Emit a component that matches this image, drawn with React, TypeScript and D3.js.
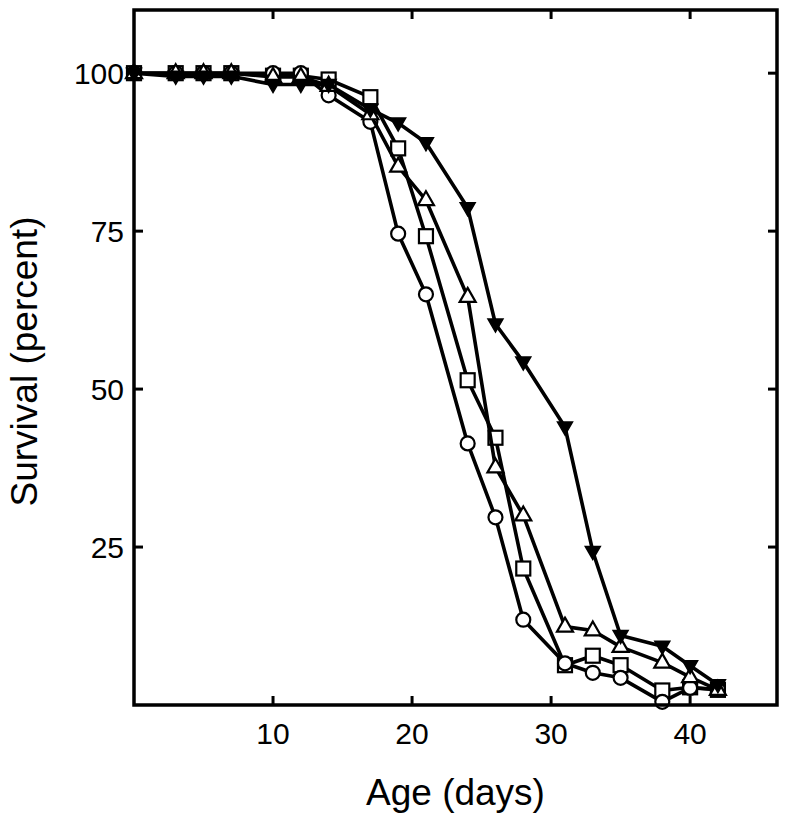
import React from "react";
import * as d3 from "d3";

const days = [0, 3, 5, 7, 10, 12, 14, 17, 19, 21, 24, 26, 28, 31, 33, 35, 38, 40, 42];
const circleSeries = [100, 100, 100, 100, 100, 100, 96.5, 92.3, 74.6, 65, 41.4, 29.7, 13.5, 6.6, 5.1, 4.3, 0.5, 2.7, 2.5];
const squareSeries = [100, 100, 100, 100, 99.6, 99.6, 99, 96.2, 88.1, 74.2, 51.4, 42.3, 21.6, 6.3, 7.8, 6.3, 2.3, 2.8, 2.4];
const triangleSeries = [100, 100, 100, 100, 99.4, 99.4, 98, 93.5, 85.2, 79.9, 64.6, 37.6, 30, 12.4, 11.8, 9.2, 6.7, 4.4, 2.4];
const filledSeries = [100, 99.5, 99.5, 99.5, 98.2, 98.2, 98.2, 94.3, 92.1, 89, 78.7, 60.3, 54.3, 44, 24.3, 11, 9.3, 6.2, 3.2];

const xTicks = [10, 20, 30, 40];
const yTicks = [25, 50, 75, 100];

const W = 788;
const H = 824;
const L = 134, R = 777, T = 10, B = 705;

export default function App() {
  const x = d3.scaleLinear().domain([0, 46.25]).range([L, R]);
  const y = d3.scaleLinear().domain([0, 110]).range([B, T]);
  const line = d3
    .line<[number, number]>()
    .x((d) => x(d[0]))
    .y((d) => y(d[1]));

  const series = [
    { name: "square", values: squareSeries },
    { name: "circle", values: circleSeries },
    { name: "triangle", values: triangleSeries },
    { name: "filled", values: filledSeries },
  ];

  const marker = (kind: string, cx: number, cy: number, key: string) => {
    const sw = 2.2;
    if (kind === "circle")
      return <circle key={key} cx={cx} cy={cy} r={7} fill="#fff" stroke="#000" strokeWidth={sw} />;
    if (kind === "square")
      return <rect key={key} x={cx - 7} y={cy - 7} width={14} height={14} fill="#fff" stroke="#000" strokeWidth={sw} />;
    if (kind === "triangle")
      return (
        <path
          key={key}
          d={`M${cx},${cy - 9}L${cx + 8},${cy + 5}L${cx - 8},${cy + 5}Z`}
          fill="#fff"
          stroke="#000"
          strokeWidth={sw}
          strokeLinejoin="miter"
        />
      );
    return (
      <path
        key={key}
        d={`M${cx - 7.5},${cy - 5}L${cx + 7.5},${cy - 5}L${cx},${cy + 8}Z`}
        fill="#000"
        stroke="#000"
        strokeWidth={1.5}
      />
    );
  };

  const font = "Arial, 'Liberation Sans', Helvetica, sans-serif";

  return (
    <svg width={W} height={H} style={{ position: "absolute", left: 0, top: 0, background: "#fff" }}>
      <rect x={0} y={0} width={W} height={H} fill="#fff" />
      {series.map((s) => (
        <g key={s.name}>
          <path
            d={line(days.map((d, i) => [d, s.values[i]] as [number, number])) || ""}
            fill="none"
            stroke="#000"
            strokeWidth={3.6}
            strokeLinejoin="round"
          />
          {days.map((d, i) => marker(s.name, x(d), y(s.values[i]), `${s.name}-${i}`))}
        </g>
      ))}
      <path
        d={`M${L},${T}H${R}V${B}H${L}Z`}
        fill="none"
        stroke="#000"
        strokeWidth={3.5}
        strokeLinejoin="miter"
      />
      {xTicks.map((t) => (
        <g key={`xt${t}`}>
          <line x1={x(t)} x2={x(t)} y1={B} y2={B - 9} stroke="#000" strokeWidth={3} />
          <line x1={x(t)} x2={x(t)} y1={T} y2={T + 9} stroke="#000" strokeWidth={3} />
          <text x={x(t)} y={744} textAnchor="middle" fontFamily={font} fontSize={30} fill="#000">
            {t}
          </text>
        </g>
      ))}
      {yTicks.map((t) => (
        <g key={`yt${t}`}>
          <line x1={L} x2={L + 9} y1={y(t)} y2={y(t)} stroke="#000" strokeWidth={3} />
          <line x1={R} x2={R - 9} y1={y(t)} y2={y(t)} stroke="#000" strokeWidth={3} />
          <text
            x={124}
            y={y(t)}
            dy="0.36em"
            textAnchor="end"
            fontFamily={font}
            fontSize={30}
            fill="#000"
          >
            {t}
          </text>
        </g>
      ))}
      <text x={(L + R) / 2} y={805} textAnchor="middle" fontFamily={font} fontSize={37} fill="#000">
        Age (days)
      </text>
      <text
        transform={`translate(37,${(T + B) / 2 + 4}) rotate(-90)`}
        textAnchor="middle"
        fontFamily={font}
        fontSize={37}
        fill="#000"
      >
        Survival (percent)
      </text>
    </svg>
  );
}
